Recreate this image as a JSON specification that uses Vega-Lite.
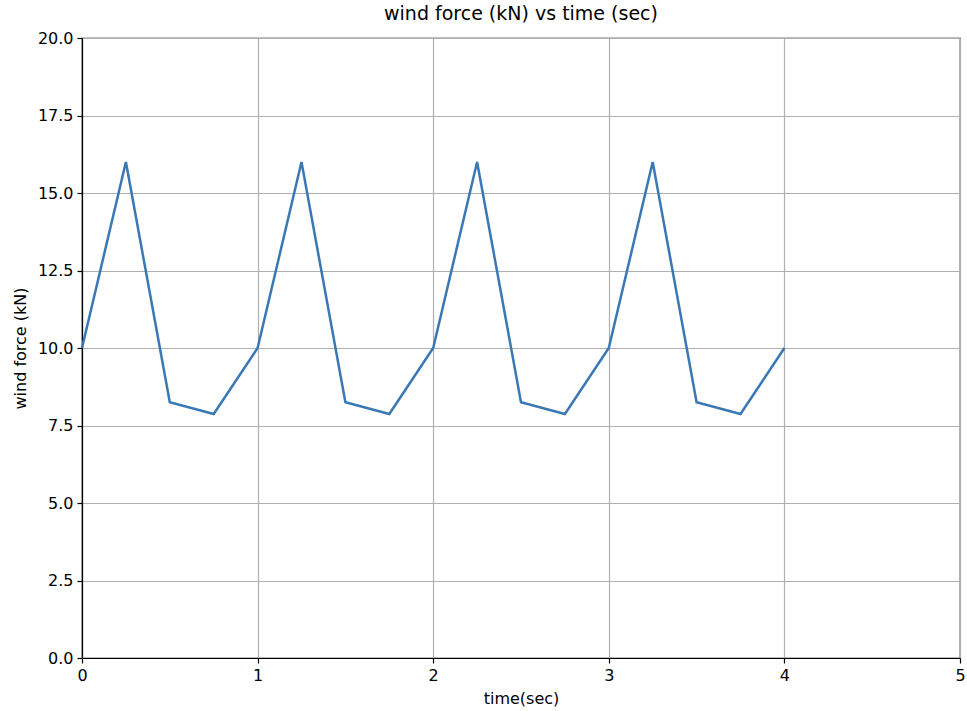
{
  "$schema": "https://vega.github.io/schema/vega-lite/v6.json",
  "autosize": "none",
  "padding": {"left": 82, "top": 38, "right": 7, "bottom": 53},
  "width": 878,
  "height": 620,
  "background": "white",
  "title": {"text": "wind force (kN) vs time (sec)", "font": "DejaVu Sans", "fontSize": 19, "fontWeight": "normal", "color": "black", "offset": 6},
  "config": {
    "view": {"stroke": "black", "strokeWidth": 1.2}
  },
  "data": {"values": [
    {"t": 0, "f": 10}, {"t": 0.25, "f": 16}, {"t": 0.5, "f": 8.25}, {"t": 0.75, "f": 7.87},
    {"t": 1, "f": 10}, {"t": 1.25, "f": 16}, {"t": 1.5, "f": 8.25}, {"t": 1.75, "f": 7.87},
    {"t": 2, "f": 10}, {"t": 2.25, "f": 16}, {"t": 2.5, "f": 8.25}, {"t": 2.75, "f": 7.87},
    {"t": 3, "f": 10}, {"t": 3.25, "f": 16}, {"t": 3.5, "f": 8.25}, {"t": 3.75, "f": 7.87},
    {"t": 4, "f": 10}
  ]},
  "mark": {"type": "line", "color": "#3a78b5", "strokeWidth": 2.5},
  "encoding": {
    "x": {"field": "t", "type": "quantitative", "scale": {"domain": [0, 5], "nice": false},
      "axis": {"values": [0, 1, 2, 3, 4, 5], "format": "d", "title": "time(sec)", "titleY": 32, "titleBaseline": "top",
        "labelFont": "DejaVu Sans", "labelFontSize": 16, "labelColor": "black", "labelFlush": false, "labelPadding": 4,
        "titleFont": "DejaVu Sans", "titleFontSize": 16, "titleFontWeight": "normal", "titleColor": "black",
        "domainColor": "black", "domainWidth": 1.2, "tickColor": "black", "tickSize": 5, "tickWidth": 1.2,
        "gridColor": "#b0b0b0", "gridWidth": 1.2, "gridOpacity": 1}},
    "y": {"field": "f", "type": "quantitative", "scale": {"domain": [0, 20], "nice": false},
      "axis": {"values": [0, 2.5, 5, 7.5, 10, 12.5, 15, 17.5, 20], "format": ".1f", "title": "wind force (kN)", "titleX": -62, "titleBaseline": "middle",
        "labelFont": "DejaVu Sans", "labelFontSize": 16, "labelColor": "black", "labelFlush": false, "labelPadding": 4,
        "titleFont": "DejaVu Sans", "titleFontSize": 16, "titleFontWeight": "normal", "titleColor": "black",
        "domainColor": "black", "domainWidth": 1.2, "tickColor": "black", "tickSize": 5, "tickWidth": 1.2,
        "gridColor": "#b0b0b0", "gridWidth": 1.2, "gridOpacity": 1}}
  }
}
